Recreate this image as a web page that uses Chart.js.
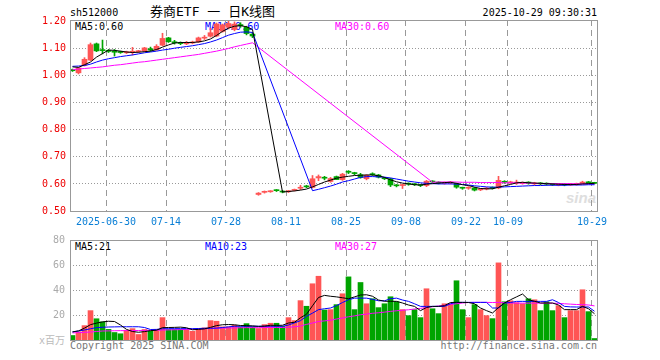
<!DOCTYPE html>
<html><head><meta charset="utf-8">
<script src="https://cdn.jsdelivr.net/npm/chart.js@4.4.1/dist/chart.umd.min.js"></script>
<style>
html,body{margin:0;padding:0;background:#fff;}
#wrap{position:relative;width:660px;height:360px;overflow:hidden;font-family:"DejaVu Sans Mono",monospace;font-size:10px;}
.t{position:absolute;white-space:nowrap;line-height:12px;}
canvas{position:absolute;left:0;}
</style></head><body>
<div id="wrap">
  <div class="t" style="left:70px;top:7px;color:#000;">sh512000</div>
  <div class="t" style="left:150px;top:4px;font-size:13px;line-height:15px;font-family:'DejaVu Sans Mono','Noto Sans CJK SC',monospace;color:#000;">券商ETF 一 日K线图</div>
  <div class="t" style="right:63px;top:7px;color:#000;">2025-10-29 09:30:31</div>
  <div class="t" style="left:75px;top:21px;color:#000;">MA5:0.60</div>
  <div class="t" style="left:205px;top:21px;color:#0000ff;">MA10:0.60</div>
  <div class="t" style="left:335px;top:21px;color:#ff00ff;">MA30:0.60</div>
  <div class="t" style="left:566px;top:190px;font-family:'Liberation Sans',sans-serif;font-weight:bold;font-style:italic;font-size:15px;line-height:16px;color:#dedede;">sina</div>
  <div class="t" style="left:75px;top:241px;color:#000;">MA5:21</div>
  <div class="t" style="left:205px;top:241px;color:#0000ff;">MA10:23</div>
  <div class="t" style="left:335px;top:241px;color:#ff00ff;">MA30:27</div>
  <div class="t" style="right:595px;top:335px;color:#bbb;font-family:'DejaVu Sans Mono','Noto Sans CJK SC',monospace;">x百万</div>
  <div class="t" style="left:70px;top:340px;color:#777;">Copyright 2025 SINA.COM</div>
  <div class="t" style="right:63px;top:340px;color:#777;">http://finance.sina.com.cn</div>
  <canvas id="pc" width="660" height="232" style="top:0;width:660px;height:232px;"></canvas>
  <canvas id="vc" width="660" height="128" style="top:232px;width:660px;height:128px;"></canvas>
</div>
<script>
// ---- data (bar index 0 = 2025-06-20 ... 87 = 2025-10-29) ----
const dateIdx = [6, 16, 26, 36, 46, 56, 66, 73, 87];
const dateLabels = ['2025-06-30', '07-14', '07-28', '08-11', '08-25', '09-08', '09-22', '10-09', '10-29'];
const priceTicks = [0.5, 0.6, 0.7, 0.8, 0.9, 1.0, 1.1, 1.2];
const volTicks = [20, 40, 60, 80];

const open = [
1.022,1.010,1.038,1.057,1.117,1.095,1.092,1.088,1.087,1.084,
1.086,1.088,1.090,1.099,1.095,1.112,1.139,1.123,1.120,1.117,
1.120,1.124,1.138,1.145,1.146,1.163,1.178,1.170,1.188,1.178,
1.153,
0.561,0.569,0.571,0.577,0.572,0.571,0.576,0.584,0.591,0.587,
0.622,0.624,0.609,0.627,0.616,0.645,0.640,0.634,0.619,0.636,
0.633,0.621,0.619,0.595,0.594,0.601,0.599,0.596,0.594,0.610,
0.605,0.602,0.603,0.601,0.586,0.584,0.585,0.578,0.581,0.587,
0.585,0.608,0.604,0.603,0.602,0.605,0.600,0.603,0.601,0.600,
0.596,0.599,0.596,0.598,0.603,0.606,0.604];
const close = [
1.018,1.028,1.060,1.114,1.091,1.092,1.089,1.086,1.085,1.087,
1.088,1.091,1.102,1.094,1.108,1.137,1.125,1.121,1.118,1.122,
1.123,1.139,1.141,1.158,1.190,1.187,1.192,1.190,1.184,1.155,
1.146,
0.566,0.572,0.573,0.575,0.570,0.573,0.578,0.587,0.589,0.619,
0.627,0.621,0.620,0.616,0.636,0.643,0.638,0.624,0.632,0.634,
0.625,0.619,0.596,0.593,0.596,0.599,0.597,0.594,0.610,0.607,
0.603,0.604,0.607,0.588,0.584,0.586,0.577,0.580,0.584,0.584,
0.613,0.606,0.606,0.606,0.604,0.603,0.602,0.600,0.599,0.597,
0.598,0.596,0.599,0.600,0.606,0.604,0.602];
const high = [
1.024,1.030,1.066,1.120,1.120,1.131,1.096,1.096,1.090,1.090,
1.104,1.093,1.104,1.105,1.114,1.156,1.141,1.130,1.124,1.126,
1.127,1.142,1.148,1.174,1.194,1.190,1.203,1.198,1.195,1.182,
1.158,
0.568,0.574,0.575,0.579,0.575,0.576,0.581,0.595,0.595,0.631,
0.633,0.628,0.624,0.629,0.639,0.649,0.643,0.639,0.634,0.641,
0.635,0.624,0.621,0.598,0.599,0.604,0.601,0.598,0.613,0.612,
0.608,0.607,0.609,0.603,0.588,0.590,0.587,0.583,0.587,0.589,
0.628,0.612,0.610,0.614,0.607,0.608,0.606,0.605,0.604,0.602,
0.601,0.601,0.602,0.603,0.610,0.609,0.606];
const low = [
1.015,1.006,1.035,1.055,1.088,1.080,1.085,1.072,1.082,1.081,
1.076,1.085,1.088,1.090,1.093,1.110,1.122,1.116,1.114,1.114,
1.117,1.122,1.133,1.142,1.143,1.160,1.172,1.165,1.178,1.150,
1.140,
0.558,0.566,0.569,0.572,0.567,0.568,0.574,0.579,0.586,0.585,
0.612,0.615,0.606,0.617,0.613,0.638,0.634,0.621,0.615,0.631,
0.622,0.616,0.590,0.589,0.583,0.595,0.594,0.590,0.590,0.604,
0.600,0.599,0.600,0.584,0.580,0.580,0.574,0.575,0.578,0.581,
0.582,0.602,0.601,0.598,0.599,0.599,0.597,0.597,0.595,0.594,
0.593,0.593,0.594,0.595,0.600,0.601,0.600];

const ma5 = [
1.032,1.030,1.040,1.050,1.068,1.081,1.094,1.093,1.090,1.087,
1.085,1.086,1.088,1.090,1.096,1.105,1.113,1.120,1.122,1.122,
1.122,1.124,1.128,1.135,1.148,1.163,1.175,1.182,1.184,1.180,
1.170,
null,null,null,null,0.570,0.572,0.574,0.577,0.581,0.589,
0.598,0.607,0.614,0.621,0.625,0.628,0.631,0.632,0.633,0.633,
0.630,0.624,0.615,0.608,0.603,0.600,0.597,0.596,0.599,0.601,
0.603,0.605,0.606,0.602,0.597,0.594,0.588,0.583,0.582,0.582,
0.588,0.593,0.598,0.604,0.606,0.604,0.603,0.602,0.601,0.600,
0.599,0.598,0.598,0.598,0.600,0.601,0.602];
const ma10 = [
1.034,1.035,1.037,1.042,1.050,1.057,1.062,1.066,1.070,1.073,
1.076,1.080,1.084,1.087,1.090,1.094,1.097,1.101,1.104,1.107,
1.110,1.114,1.118,1.124,1.131,1.140,1.149,1.155,1.160,1.161,
1.159,
null,null,null,null,null,null,null,null,null,0.575,
0.580,0.586,0.592,0.599,0.607,0.612,0.618,0.624,0.627,0.627,
0.626,0.625,0.622,0.618,0.614,0.610,0.607,0.604,0.602,0.601,
0.600,0.600,0.600,0.599,0.598,0.596,0.593,0.591,0.589,0.588,
0.588,0.589,0.590,0.591,0.592,0.593,0.594,0.594,0.595,0.595,
0.595,0.595,0.596,0.596,0.596,0.597,0.597];
const ma30 = [
1.022,1.024,1.026,1.028,1.030,1.032,1.035,1.038,1.040,1.043,
1.046,1.049,1.051,1.054,1.057,1.060,1.063,1.066,1.069,1.072,
1.075,1.078,1.082,1.086,1.090,1.095,1.100,1.106,1.111,1.116,
1.121,
null,null,null,null,null,null,null,null,null,null,
null,null,null,null,null,null,null,null,null,null,
null,null,null,null,null,null,null,null,null,0.606,
0.607,0.607,0.607,0.607,0.606,0.606,0.606,0.605,0.605,0.605,
0.605,0.604,0.604,0.604,0.603,0.603,0.602,0.601,0.601,0.601,
0.601,0.601,0.601,0.600,0.600,0.600,0.600];

const vol = [
3.6,6.5,11.5,23.5,17,14.5,8.5,6,5,7.8,
9.1,4.4,8.4,7,8.4,17.9,8.4,8.4,8.4,8.4,
7,9,9.7,15.5,15,10.5,10.5,11.8,10.5,13.1,
10.5,
9.2,12.3,13.4,13.4,10.9,17.9,15.5,31.5,27,45,
51,24,24.3,28.3,37,50.5,24.3,46,29,33,
25.9,29,34.6,30.6,24.3,19.5,24.3,17.9,41,25,
21.1,29,29,47.4,24.3,17.9,28.3,24.3,19.5,17.1,
61.7,30.6,31.4,29.9,29,33,32.2,23.5,30.6,23.5,
27.5,17.9,23.5,23.5,40.2,22.7,1.2];
const volMa5 = [
6.5,7.3,9.5,12.3,13.5,14.5,15,14.8,12,8.5,
6.8,6.2,6.7,7.5,7.8,9.9,10,10.1,10.3,9.8,
8.2,8.5,8.9,10.1,11.5,12.2,12.4,12.2,11.6,11.5,
11.3,
10.9,11.1,11.8,11.7,11.8,13.6,14.2,17.8,20.6,27.4,
34,35.7,35,34.5,33.8,33,34.5,36,36.2,35,
32,31,31,30.9,29.6,28,26.9,23.5,26,26.9,
26.9,27.5,30,30.1,30.1,30,29,25.6,23.5,21.6,
26,29.6,32.2,34.5,36.8,32.2,31,29.6,29.6,29.6,
28,24.3,24.3,24.3,26.9,25,21];
const volMa10 = [
6.5,7.2,8,9,9.9,10.2,10.4,10.5,10.6,10.6,
10.6,10.6,10,8.4,8.5,9,9.1,9.1,9.1,9.1,
9.1,9.2,9.4,9.4,9.5,10,10.5,11,11,11,
11,
11,11,11,11,11,12,13.7,15.5,19,21.5,
24.3,25,25.6,27.5,30,32.2,33.5,33.5,33.5,32.5,
31.4,31.4,33,33.5,32,30.9,29,26.9,26.9,26.9,
26.9,26.9,29,30.1,30.1,30.1,30.1,30.1,30.1,25.6,
25.6,29.6,30,30.9,30.9,30.9,30.9,30.9,30.9,32.2,
30,26.9,26.5,26.4,26.4,26.4,23];
const volMa30 = [
5.7,5.9,6.1,6.4,6.8,7.2,7.3,7.4,7.5,7.5,
7.6,7.6,7.7,7.7,7.8,8,8.1,8.2,8.3,8.5,
8.6,8.8,9,9.2,9.4,9.5,9.6,9.7,9.8,9.9,
9.9,
9.9,10,10,10,10,10.2,10.6,11.2,12.5,13.6,
14.8,15.3,15.8,16.8,17.6,18.6,19.3,20.2,20.7,21.4,
21.8,22.3,22.9,23.4,23.8,24.2,24.8,25.3,26,26.6,
27.2,27.8,28.4,29,29.6,30,30.1,30.1,30.1,30,
30.1,29.8,29.6,29.5,29.5,29.5,29.5,29.5,29.5,29.4,
29.3,29,28.7,28.4,28.3,28,27.3];

// ---- drawing ----
const UP = '#ff5555', DOWN = '#00a400';
const GRID = '#999';
const idx = open.map((_, i) => i);
const colorAt = i => (close[i] >= open[i] ? UP : DOWN);
const xMin = -2.5 / 6, xMax = 524.5 / 6, gridShift = -2.5 / 6;
const FONT = {family: 'DejaVu Sans Mono', size: 10};

Chart.defaults.font.family = 'DejaVu Sans Mono';
Chart.defaults.font.size = 10;

const frame = {
  id: 'frame',
  afterDraw(chart) {
    const {ctx, chartArea: a} = chart;
    ctx.save();
    ctx.strokeStyle = '#999';
    ctx.lineWidth = 1;
    ctx.setLineDash([]);
    ctx.strokeRect(a.left + 0.5, a.top + 0.5, a.right - a.left, a.bottom - a.top);
    ctx.restore();
  }
};

function lineDs(arr, color, order) {
  return {type: 'line', data: idx.map(i => ({x: i, y: arr[i]})), borderColor: color,
    borderWidth: 1, pointRadius: 0, tension: 0, spanGaps: true, order: order, fill: false};
}

function xScale(showLabels, h) {
  return {
    type: 'linear', min: xMin, max: xMax, offset: false,
    afterBuildTicks: s => { s.ticks = dateIdx.map(v => ({value: v + gridShift})); },
    ticks: {display: showLabels, autoSkip: false, maxRotation: 0, minRotation: 0, padding: 5,
      color: '#0a7fd6', font: FONT, callback: (v, i) => dateLabels[i]},
    grid: {display: true, drawOnChartArea: true, offset: false, color: GRID, lineWidth: 1, drawTicks: false},
    border: {display: false, dash: [6, 4]},
    afterFit: s => { s.height = h; s.paddingLeft = 0; s.paddingRight = 0; }
  };
}

const pc = new Chart(document.getElementById('pc'), {
  type: 'bar',
  data: {datasets: [
    lineDs(ma5, '#000000', 1),
    lineDs(ma10, '#0000ff', 2),
    lineDs(ma30, '#ff00ff', 3),
    {type: 'bar', data: idx.map(i => ({x: i, y: [open[i], close[i]]})),
      backgroundColor: c => colorAt(c.dataIndex), barThickness: 5, minBarLength: 1,
      grouped: false, borderWidth: 0, order: 4},
    {type: 'bar', data: idx.map(i => ({x: i, y: [low[i], high[i]]})),
      backgroundColor: c => colorAt(c.dataIndex), barThickness: 1,
      grouped: false, borderWidth: 0, order: 5}
  ]},
  options: {
    responsive: false, animation: false, devicePixelRatio: 1,
    layout: {padding: {left: 0, top: 20, right: 63, bottom: 0}},
    plugins: {legend: {display: false}, tooltip: {enabled: false}},
    scales: {
      x: xScale(true, 21),
      y: {
        type: 'linear', min: 0.5, max: 1.205,
        afterBuildTicks: s => { s.ticks = priceTicks.map(v => ({value: v})); },
        ticks: {color: '#ee0000', padding: 4, font: FONT, callback: v => Number(v).toFixed(2)},
        grid: {display: true, drawOnChartArea: true, lineWidth: 1, drawTicks: false,
          color: c => (c.tick && (c.tick.value === 0.5 || c.tick.value === 1.2)) ? 'rgba(0,0,0,0)' : GRID},
        border: {display: false, dash: [1, 2]},
        afterFit: s => { s.width = 70; s.paddingTop = 0; s.paddingBottom = 0; }
      }
    }
  },
  plugins: [frame]
});

const vc = new Chart(document.getElementById('vc'), {
  type: 'bar',
  data: {datasets: [
    lineDs(volMa5, '#000000', 1),
    lineDs(volMa10, '#0000ff', 2),
    lineDs(volMa30, '#ff00ff', 3),
    {type: 'bar', data: idx.map(i => ({x: i, y: vol[i]})),
      backgroundColor: c => colorAt(c.dataIndex), barThickness: 5,
      grouped: false, borderWidth: 0, order: 4}
  ]},
  options: {
    responsive: false, animation: false, devicePixelRatio: 1,
    layout: {padding: {left: 0, top: 8, right: 63, bottom: 20}},
    plugins: {legend: {display: false}, tooltip: {enabled: false}},
    scales: {
      x: xScale(false, 0),
      y: {
        type: 'linear', min: 0, max: 80,
        afterBuildTicks: s => { s.ticks = volTicks.map(v => ({value: v})); },
        ticks: {color: '#aaa', padding: 5, font: FONT, callback: v => String(v)},
        grid: {display: true, drawOnChartArea: true, lineWidth: 1, drawTicks: false,
          color: c => (c.tick && c.tick.value === 80) ? 'rgba(0,0,0,0)' : GRID},
        border: {display: false, dash: [1, 2]},
        afterFit: s => { s.width = 70; s.paddingTop = 0; s.paddingBottom = 0; }
      }
    }
  },
  plugins: [frame]
});
</script>
</body></html>
